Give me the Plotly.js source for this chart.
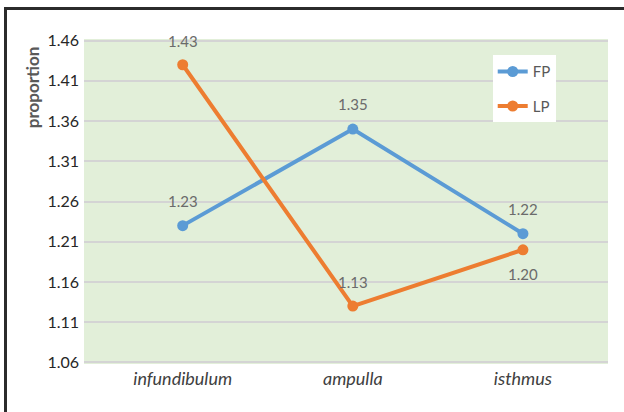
<!DOCTYPE html>
<html><head><meta charset="utf-8">
<script src="https://cdn.plot.ly/plotly-3.0.1.min.js"></script>
<style>
html,body{margin:0;padding:0;background:#fff;overflow:hidden;}
#chart{width:624px;height:412px;}
#frame{position:absolute;left:4px;top:7px;width:640px;height:440px;border:3px solid #2b2b2b;pointer-events:none;box-sizing:border-box;}
</style></head>
<body>
<div id="chart"></div>
<div id="frame"></div>
<script>
const categories = ["infundibulum", "ampulla", "isthmus"];
const fpValues = [1.23, 1.35, 1.22];
const lpValues = [1.43, 1.13, 1.20];
const fpLabels = ["1.23", "1.35", "1.22"];
const lpLabels = ["1.43", "1.13", "1.20"];
const lpLabelBelow = [false, false, true];
const yTicks = [1.06, 1.11, 1.16, 1.21, 1.26, 1.31, 1.36, 1.41, 1.46];
const yTitle = "proportion";

const fontFam = "Lato, 'Open Sans', sans-serif";
const labelFont = {family: fontFam, size: 15, color: "#6b6b6b"};

const traces = [
  {x: categories, y: fpValues, name: "FP", type: "scatter", mode: "lines+markers",
   legendgroup: "fp",
   line: {color: "#5b9bd5", width: 4}, marker: {color: "#5b9bd5", size: 11}, cliponaxis: false},
  {x: categories, y: lpValues, name: "LP", type: "scatter", mode: "lines+markers",
   legendgroup: "lp",
   line: {color: "#ed7d31", width: 4}, marker: {color: "#ed7d31", size: 11}, cliponaxis: false}
];

const annotations = [];
categories.forEach((c, i) => {
  annotations.push({x: c, y: fpValues[i], text: fpLabels[i], showarrow: false,
                    yshift: 25, font: labelFont});
  annotations.push({x: c, y: lpValues[i], text: lpLabels[i], showarrow: false,
                    yshift: lpLabelBelow[i] ? -24 : 24, font: labelFont});
});
annotations.push({xref: "paper", yref: "paper", x: -0.099, y: 0.852, text: "<b>" + yTitle + "</b>",
                  textangle: -90, showarrow: false, xanchor: "center", yanchor: "middle",
                  font: {family: fontFam, size: 17, color: "#595959"}});

const layout = {
  width: 624, height: 412,
  margin: {l: 84, r: 16, t: 39, b: 48},
  paper_bgcolor: "#ffffff",
  plot_bgcolor: "#e2efd9",
  font: {family: fontFam, color: "#404040"},
  showlegend: true,
  legend: {x: 0.78, y: 0.95, xanchor: "left", yanchor: "top", bgcolor: "#ffffff",
           font: {size: 15, color: "#595959"}, tracegroupgap: 12,
           borderwidth: 0},
  annotations: annotations,
  xaxis: {type: "category", categoryorder: "array", categoryarray: categories,
          range: [-0.58, 2.5], showgrid: false, zeroline: false, showline: false,
          ticks: "", ticklabelstandoff: 2, tickfont: {size: 18, color: "#404040", style: "italic"}},
  yaxis: {range: [1.058, 1.462], tickvals: yTicks, ticktext: yTicks.map(v => v.toFixed(2)),
          showgrid: true, gridcolor: "#d4d4d4", gridwidth: 2, zeroline: false, showline: false,
          ticks: "", ticklabelstandoff: 4, tickfont: {size: 16, color: "#262626"}}
};

Plotly.newPlot("chart", traces, layout, {displayModeBar: false, staticPlot: true});
</script>
</body></html>
